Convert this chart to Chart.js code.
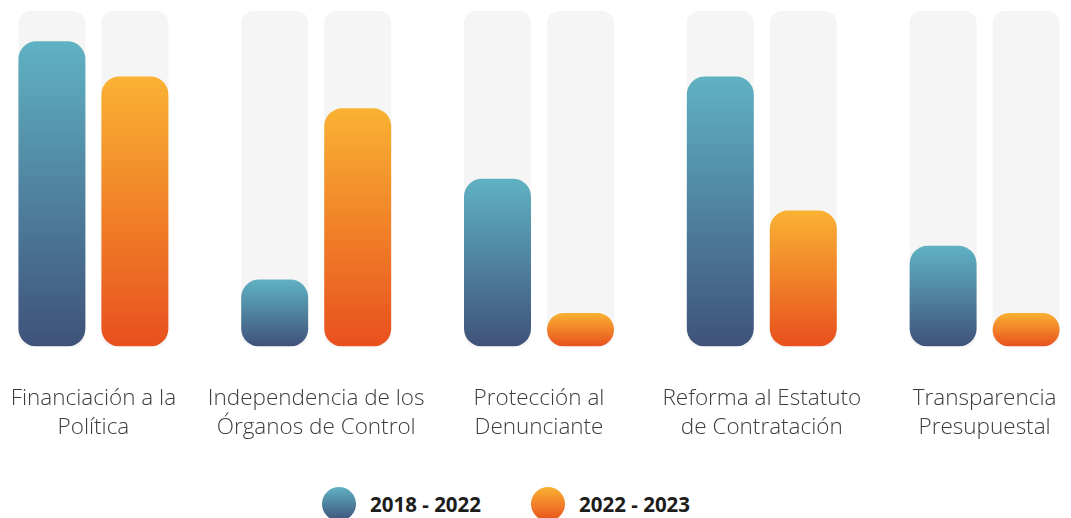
<!DOCTYPE html>
<html>
<head>
<meta charset="utf-8">
<script src="https://cdn.jsdelivr.net/npm/chart.js@4"></script>
<style>
  html, body { margin: 0; padding: 0; background: #fff; overflow: hidden; }
  body { width: 1071px; height: 518px; position: relative; }
  #myChart { position: absolute; left: -18px; top: 0; }
  #legend { position: absolute; top: 487px; left: 322px; display: flex; align-items: center;
            font-family: "Open Sans", sans-serif; font-weight: 700; font-size: 20.5px; color: #1d1d1b; }
  #legend .item { display: flex; align-items: center; margin-right: 50px; }
  #legend .dot { width: 34px; height: 34px; border-radius: 50%; margin-right: 14px; }
</style>
</head>
<body>
<canvas id="myChart" width="1114" height="479"></canvas>
<div id="legend"></div>
<script>
const categories = [
  ['Financiación a la', 'Política'],
  ['Independencia de los', 'Órganos de Control'],
  ['Protección al', 'Denunciante'],
  ['Reforma al Estatuto', 'de Contratación'],
  ['Transparencia', 'Presupuestal']
];
const seriesNames = ['2018 - 2022', '2022 - 2023'];
const values2018 = [91, 20, 50, 80.5, 30];
const values2022 = [80.5, 71, 10, 40.5, 10];
const trackValues = [100, 100, 100, 100, 100];

const blue = ['#60b2c3', '#3f527a'];
const orange = ['#f9b233', '#e8501e'];

// each bar gets its own top-to-bottom gradient
function barGradient(colors) {
  return function (context) {
    const chart = context.chart;
    if (!chart.chartArea || context.type !== 'data') return colors[1];
    const y = chart.scales.y;
    const top = y.getPixelForValue(context.raw);
    const base = y.getPixelForValue(0);
    const g = chart.ctx.createLinearGradient(0, top, 0, base);
    g.addColorStop(0, colors[0]);
    g.addColorStop(1, colors[1]);
    return g;
  };
}

const ctx = document.getElementById('myChart').getContext('2d');

new Chart(ctx, {
  type: 'bar',
  data: {
    labels: categories,
    datasets: [
      { label: seriesNames[0], data: values2018, stack: 'a', order: 1,
        backgroundColor: barGradient(blue), borderRadius: 18, borderSkipped: false },
      { label: seriesNames[1], data: values2022, stack: 'b', order: 1,
        backgroundColor: barGradient(orange), borderRadius: 18, borderSkipped: false },
      { label: 'track a', data: trackValues, stack: 'a', order: 2,
        backgroundColor: '#f5f5f5', borderRadius: 12, borderSkipped: false },
      { label: 'track b', data: trackValues, stack: 'b', order: 2,
        backgroundColor: '#f5f5f5', borderRadius: 12, borderSkipped: false }
    ]
  },
  options: {
    responsive: false,
    animation: false,
    layout: { padding: { top: 11, bottom: 0, left: 0, right: 0 } },
    datasets: { bar: { categoryPercentage: 0.745, barPercentage: 0.807 } },
    scales: {
      x: {
        stacked: true,
        grid: { display: false, drawTicks: false },
        border: { display: false },
        afterFit: function (scale) {
          // labels fit inside their category, no extra side padding
          scale.paddingLeft = 0;
          scale.paddingRight = 0;
        },
        ticks: {
          padding: 37,
          color: '#3c3c3b',
          font: { family: 'Open Sans', weight: 300, size: 22.5, lineHeight: 1.3 },
          maxRotation: 0,
          autoSkip: false
        }
      },
      y: {
        stacked: false,
        display: false,
        min: 0,
        max: 100
      }
    },
    plugins: {
      legend: { display: false },
      tooltip: { enabled: false }
    }
  }
});

const legend = document.getElementById('legend');
[blue, orange].forEach(function (c, i) {
  const item = document.createElement('div');
  item.className = 'item';
  const dot = document.createElement('span');
  dot.className = 'dot';
  dot.style.background = 'linear-gradient(' + c[0] + ', ' + c[1] + ')';
  const text = document.createElement('span');
  text.textContent = seriesNames[i];
  item.appendChild(dot);
  item.appendChild(text);
  legend.appendChild(item);
});
</script>
</body>
</html>
